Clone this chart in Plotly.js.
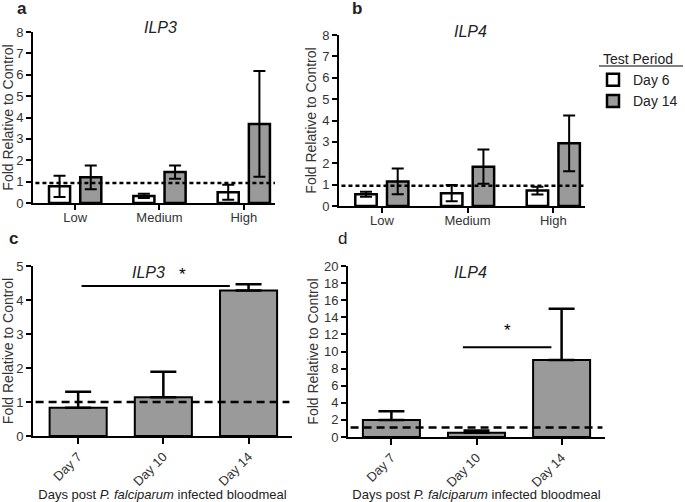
<!DOCTYPE html>
<html>
<head>
<meta charset="utf-8">
<script src="https://cdn.plot.ly/plotly-3.0.1.min.js"></script>
<style>html,body{margin:0;padding:0;background:#fff;}#chart{width:685px;height:502px;}</style>
</head>
<body>
<div id="chart"></div>
<script>
// ---- data ----
const doseCats = ['Low', 'Medium', 'High'];
const ilp3Day6 = [0.78, 0.33, 0.50];
const ilp3Day6Err = [0.50, 0.10, 0.35];
const ilp3Day14 = [1.20, 1.45, 3.70];
const ilp3Day14Err = [0.56, 0.31, 2.47];
const ilp4Day6 = [0.55, 0.60, 0.72];
const ilp4Day6Err = [0.12, 0.38, 0.18];
const ilp4Day14 = [1.15, 1.84, 2.93];
const ilp4Day14Err = [0.60, 0.80, 1.30];

const dayCats = ['Day 7', 'Day 10', 'Day 14'];
const ilp3Time = [0.83, 1.14, 4.28];
const ilp3TimeErr = [0.47, 0.75, 0.18];
const ilp4Time = [2.0, 0.5, 9.0];
const ilp4TimeErr = [1.0, 0.27, 6.0];

const controlLevels = [0.93, 0.95, 1.0, 1.1];   // dashed control lines a, b, c, d
const sigC = {x0: 0.04, x1: 1.78, y: 4.41, star: 1.23};
const sigD = {x0: 0.84, x1: 1.88, y: 10.5, star: 1.37};

const seriesNames = ['Day 6', 'Day 14'];
const gray = '#9a9a9a';

function doseBar(y, err, name, xa, ya, fill, off, show) {
  return {
    type: 'bar', x: doseCats, y: y, name: name, xaxis: xa, yaxis: ya,
    offset: off, width: 0.25, showlegend: show, legendgroup: name,
    marker: {color: fill, line: {color: '#000', width: 2.5}},
    error_y: {type: 'data', array: err, visible: true, color: '#000', thickness: 2, width: 6}
  };
}
function timeBar(y, err, xa, ya) {
  return {
    type: 'bar', x: dayCats, y: y, xaxis: xa, yaxis: ya, showlegend: false,
    offset: -0.335, width: 0.67,
    marker: {color: gray, line: {color: '#000', width: 2}},
    error_y: {type: 'data', symmetric: false, array: err, arrayminus: err.map(() => 0),
              visible: true, color: '#000', thickness: 2.5, width: 13}
  };
}

const data = [
  doseBar(ilp3Day6, ilp3Day6Err, seriesNames[0], 'x', 'y', '#ffffff', -0.31, true),
  doseBar(ilp3Day14, ilp3Day14Err, seriesNames[1], 'x', 'y', gray, 0.06, true),
  doseBar(ilp4Day6, ilp4Day6Err, seriesNames[0], 'x2', 'y2', '#ffffff', -0.31, false),
  doseBar(ilp4Day14, ilp4Day14Err, seriesNames[1], 'x2', 'y2', gray, 0.06, false),
  timeBar(ilp3Time, ilp3TimeErr, 'x3', 'y3'),
  timeBar(ilp4Time, ilp4TimeErr, 'x4', 'y4')
];

const W = 685, H = 502;
const px = v => v / W;
const py = v => 1 - v / H;

const axBase = {
  showline: true, linecolor: '#000', linewidth: 2,
  ticks: 'outside', ticklen: 5, tickwidth: 2, tickcolor: '#000',
  showgrid: false, zeroline: false, fixedrange: true,
  tickfont: {size: 13, color: '#333'}
};
const yTitle = {text: 'Fold Relative to Control', font: {size: 14, color: '#333'}, standoff: 2};
const xTitle = {text: 'Days post <i>P. falciparum</i> infected bloodmeal', font: {size: 13, color: '#222'}, standoff: 4};

function note(text, x, y, size, extra) {
  return Object.assign({text: text, xref: 'paper', yref: 'paper', x: px(x), y: py(y),
    xanchor: 'center', yanchor: 'middle', showarrow: false, font: {size: size, color: '#222'}}, extra || {});
}

const layout = {
  width: W, height: H,
  margin: {l: 0, r: 0, t: 0, b: 0},
  paper_bgcolor: '#fff', plot_bgcolor: '#fff',
  font: {family: 'Liberation Sans, Arial, sans-serif', color: '#333'},
  barmode: 'overlay',
  showlegend: true,
  legend: {
    x: px(593), y: py(46), xanchor: 'left', yanchor: 'top',
    font: {size: 14, color: '#222'},
    title: {text: 'Test Period', side: 'top center', font: {size: 14, color: '#222'}},
    bgcolor: 'rgba(0,0,0,0)', tracegroupgap: 0, itemwidth: 30
  },
  xaxis: Object.assign({}, axBase, {domain: [px(33), px(275)], anchor: 'y', type: 'category', range: [-0.5, 2.37], ticklabelstandoff: -4}),
  yaxis: Object.assign({}, axBase, {domain: [py(203), py(32)], anchor: 'x', range: [0, 8], dtick: 1, title: yTitle}),
  xaxis2: Object.assign({}, axBase, {domain: [px(339), px(585)], anchor: 'y2', type: 'category', range: [-0.5, 2.37], ticklabelstandoff: -4}),
  yaxis2: Object.assign({}, axBase, {domain: [py(206), py(35)], anchor: 'x2', range: [0, 8], dtick: 1, title: yTitle}),
  xaxis3: Object.assign({}, axBase, {domain: [px(33), px(292)], anchor: 'y3', type: 'category', range: [-0.53, 2.51], tickangle: -45, ticklen: 6, title: xTitle}),
  yaxis3: Object.assign({}, axBase, {domain: [py(436), py(266)], anchor: 'x3', range: [0, 5], dtick: 1, title: yTitle}),
  xaxis4: Object.assign({}, axBase, {domain: [px(348), px(605)], anchor: 'y4', type: 'category', range: [-0.51, 2.51], tickangle: -45, ticklen: 6, title: xTitle}),
  yaxis4: Object.assign({}, axBase, {domain: [py(437), py(266)], anchor: 'x4', range: [0, 20], dtick: 2, title: yTitle}),
  shapes: [
    {type: 'line', xref: 'x domain', yref: 'y', x0: 0.01, x1: 1, y0: controlLevels[0], y1: controlLevels[0], line: {color: '#000', width: 2.5, dash: '4px,3px'}},
    {type: 'line', xref: 'x2 domain', yref: 'y2', x0: 0.01, x1: 1, y0: controlLevels[1], y1: controlLevels[1], line: {color: '#000', width: 2.5, dash: '4px,3px'}},
    {type: 'line', xref: 'x3 domain', yref: 'y3', x0: 0.01, x1: 0.99, y0: controlLevels[2], y1: controlLevels[2], line: {color: '#000', width: 2.5, dash: '8px,5px'}},
    {type: 'line', xref: 'x4 domain', yref: 'y4', x0: 0.01, x1: 0.99, y0: controlLevels[3], y1: controlLevels[3], line: {color: '#000', width: 2.5, dash: '8px,5px'}},
    {type: 'line', xref: 'x3', yref: 'y3', x0: sigC.x0, x1: sigC.x1, y0: sigC.y, y1: sigC.y, line: {color: '#000', width: 2}},
    {type: 'line', xref: 'x4', yref: 'y4', x0: sigD.x0, x1: sigD.x1, y0: sigD.y, y1: sigD.y, line: {color: '#000', width: 2}},
    {type: 'line', xref: 'paper', yref: 'paper', x0: px(599), x1: px(683), y0: py(66), y1: py(66), line: {color: '#555', width: 1.5}}
  ],
  annotations: [
    note('<b>a</b>', 22, 9, 17),
    note('<b>b</b>', 357, 9, 17),
    note('<b>c</b>', 13, 238, 17),
    note('d', 342, 238, 17),
    note('<i>ILP3</i>', 160, 28, 16),
    note('<i>ILP4</i>', 470, 32, 16),
    note('<i>ILP3</i>', 148, 272, 16),
    note('<i>ILP4</i>', 470, 272, 16),
    {text: '*', xref: 'x3', yref: 'y3', x: sigC.star, y: sigC.y, xanchor: 'center', yanchor: 'bottom', showarrow: false, font: {size: 17, color: '#000'}},
    {text: '*', xref: 'x4', yref: 'y4', x: sigD.star, y: sigD.y + 0.6, xanchor: 'center', yanchor: 'bottom', showarrow: false, font: {size: 17, color: '#000'}}
  ]
};

Plotly.newPlot('chart', data, layout, {displayModeBar: false, staticPlot: true});
</script>
</body>
</html>
